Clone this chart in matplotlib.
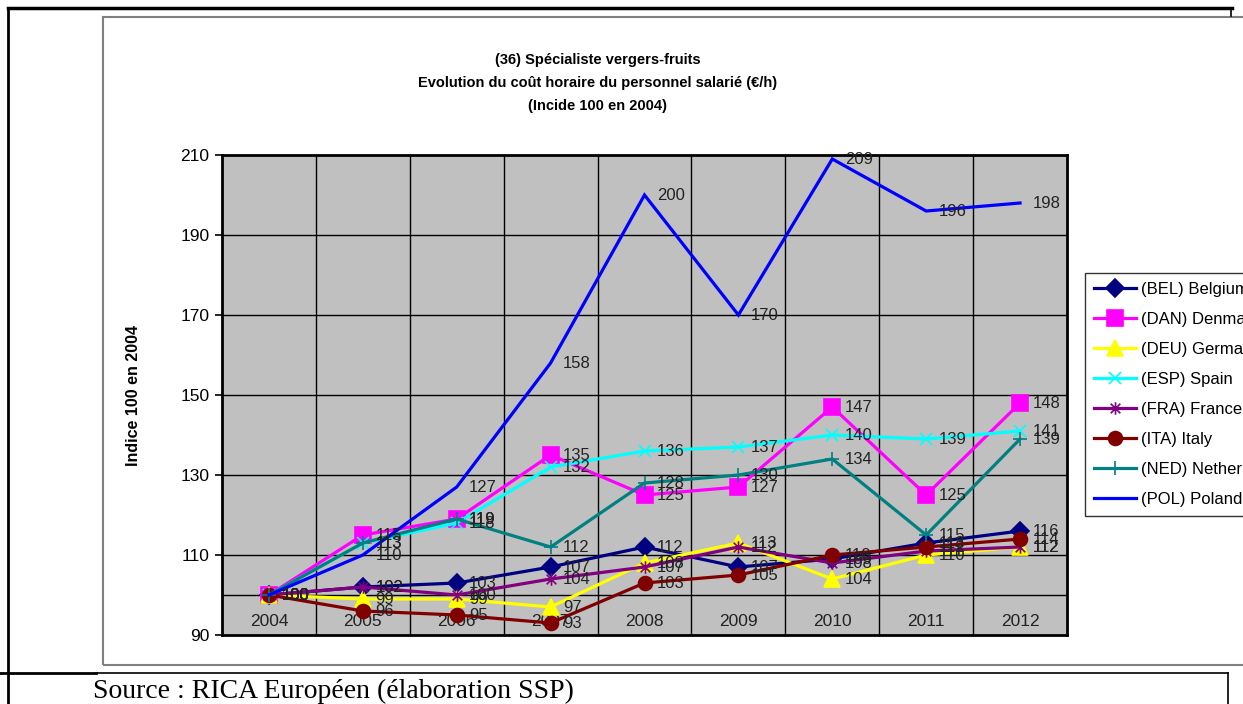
import matplotlib.pyplot as plt
from matplotlib.path import Path
from matplotlib.lines import Line2D
from matplotlib.patches import Rectangle

plt.rcParams['font.family'] = ['Liberation Sans', 'DejaVu Sans']

years = ['2004', '2005', '2006', '2007', '2008', '2009', '2010', '2011', '2012']
bel = [100, 102, 103, 107, 112, 107, 109, 113, 116]
dan = [100, 115, 119, 135, 125, 127, 147, 125, 148]
deu = [100, 99, 99, 97, 108, 113, 104, 110, 112]
esp = [100, 113, 118, 132, 136, 137, 140, 139, 141]
fra = [100, 102, 100, 104, 107, 112, 108, 111, 112]
ita = [100, 96, 95, 93, 103, 105, 110, 112, 114]
ned = [100, 113, 119, 112, 128, 130, 134, 115, 139]
pol = [100, 110, 127, 158, 200, 170, 209, 196, 198]

names = ['(BEL) Belgium', '(DAN) Denmark', '(DEU) Germany', '(ESP) Spain',
         '(FRA) France', '(ITA) Italy', '(NED) Netherlands', '(POL) Poland']

# excel style asterisk: an x with a vertical bar
star = Path([(-1, -1), (1, 1), (-1, 1), (1, -1), (0, -1.3), (0, 1.3)],
            [Path.MOVETO, Path.LINETO, Path.MOVETO, Path.LINETO, Path.MOVETO, Path.LINETO])

styles = [
    (bel, '#000080', 'D', 9),
    (dan, '#FF00FF', 's', 11),
    (deu, '#FFFF00', '^', 11),
    (esp, '#00FFFF', 'x', 9),
    (fra, '#800080', star, 9),
    (ita, '#800000', 'o', 10),
    (ned, '#008080', '+', 10),
    (pol, '#0000FF', None, 0),
]

W, H = 1243, 704
fig = plt.figure(figsize=(W / 100, H / 100), dpi=100)

def fx(px):
    return px / W

def fy(py):
    return 1 - py / H

# page frame and chart area border
fig.add_artist(Rectangle((fx(103), fy(665)), fx(1300) - fx(103), fy(17) - fy(665),
                         transform=fig.transFigure, fill=False, ec='#808080', lw=1.5))
fig.add_artist(Line2D([fx(8), fx(1232)], [fy(8), fy(8)], color='black', lw=2.5, transform=fig.transFigure))
fig.add_artist(Line2D([fx(1231), fx(1231)], [fy(8), fy(16)], color='black', lw=1.2, transform=fig.transFigure))
fig.add_artist(Line2D([fx(8), fx(8)], [fy(8), fy(704)], color='black', lw=2, transform=fig.transFigure))
fig.add_artist(Line2D([fx(0), fx(96)], [fy(673), fy(673)], color='black', lw=2, transform=fig.transFigure))
fig.add_artist(Line2D([fx(96), fx(1228)], [fy(673), fy(673)], color='black', lw=1.2, transform=fig.transFigure))
fig.add_artist(Line2D([fx(1228), fx(1228)], [fy(673), fy(704)], color='black', lw=1.2, transform=fig.transFigure))

ax = fig.add_axes([fx(222), fy(635), fx(1067) - fx(222), fy(155) - fy(635)])
ax.set_facecolor('#C0C0C0')
x = list(range(len(years)))

handles = []
for (vals, col, mk, ms), name in zip(styles, names):
    h, = ax.plot(x, vals, color=col, lw=2.3, marker=mk, markersize=ms,
                 markerfacecolor=col, markeredgecolor=col, markeredgewidth=1.2,
                 label=name, zorder=3, solid_joinstyle='miter')
    handles.append(h)

for vals, col, mk, ms in styles:
    for xi, v in zip(x, vals):
        ax.annotate(str(v), (xi, v), xytext=(9, 0), textcoords='offset points',
                    ha='left', va='center', fontsize=12, color='#222222', zorder=5)

ax.set_xlim(-0.5, len(years) - 0.5)
ax.set_ylim(90, 210)
ax.set_yticks(range(90, 211, 20))
ax.tick_params(axis='y', length=5, width=1.2, labelsize=12.5, pad=4)
ax.set_xticks([])

for b in [i + 0.5 for i in range(len(years) - 1)]:
    ax.axvline(b, color='black', lw=1, zorder=1)
for g in range(110, 210, 20):
    ax.axhline(g, color='black', lw=1, zorder=1)
ax.axhline(100, color='black', lw=1, zorder=1)

for xi, yr in zip(x, years):
    ax.text(xi, 93.5, yr, ha='center', va='center', fontsize=12.5, color='#222222', zorder=2)

for s in ax.spines.values():
    s.set_linewidth(2)
    s.set_color('black')

fig.text(fx(133), fy(395), 'Indice 100 en 2004', rotation=90, ha='center', va='center',
         fontsize=11.5, fontweight='bold')

fig.text(fx(598), fy(60), '(36) Spécialiste vergers-fruits', ha='center', va='center',
         fontsize=10.5, fontweight='bold')
fig.text(fx(598), fy(83), 'Evolution du coût horaire du personnel salarié (€/h)', ha='center', va='center',
         fontsize=10.5, fontweight='bold')
fig.text(fx(598), fy(106), '(Incide 100 en 2004)', ha='center', va='center',
         fontsize=10.5, fontweight='bold')

leg = fig.legend(handles=handles, loc='upper left', bbox_to_anchor=(fx(1085), fy(273)),
                 fontsize=12, frameon=True, fancybox=False, edgecolor='black',
                 handlelength=2.5, handletextpad=0.3, labelspacing=0.9, borderpad=0.55,
                 borderaxespad=0)
leg.get_frame().set_linewidth(1)

fig.text(fx(93), fy(691), 'Source : RICA Européen (élaboration SSP)', ha='left', va='center',
         fontsize=20, family='Liberation Serif')

fig.savefig('out.png', dpi=100)
